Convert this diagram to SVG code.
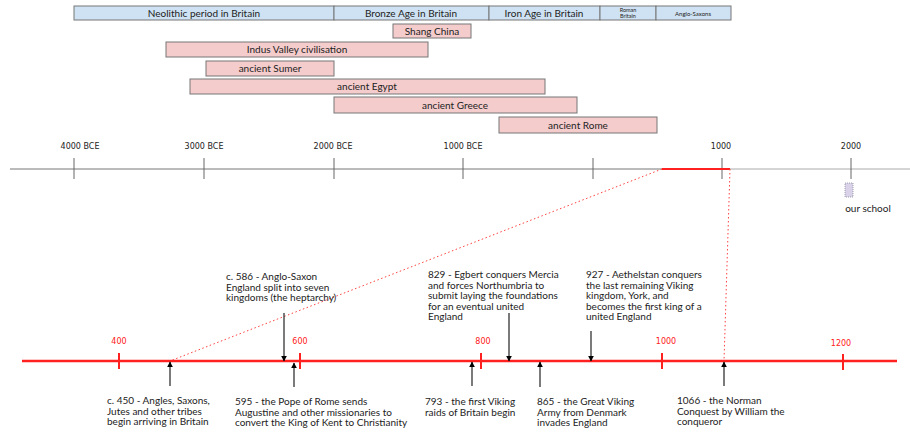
<svg xmlns="http://www.w3.org/2000/svg" width="910" height="434" viewBox="0 0 910 434">
<defs>
<style>
.bl{fill:#cfe2f3;stroke:#777;stroke-width:1}
.pk{fill:#f4cccc;stroke:#777;stroke-width:1}
.bt{font-family:Lato,"Open Sans",sans-serif;font-size:10px;fill:#222;text-anchor:middle}
.ax{font-family:"DejaVu Sans",sans-serif;font-size:8px;fill:#222;text-anchor:middle}
.rx{font-family:"DejaVu Sans",sans-serif;font-size:8px;fill:#ff2020;text-anchor:middle}
.ev{font-family:Lato,"Open Sans",sans-serif;font-size:10px;fill:#222}
.tk{stroke:#666;stroke-width:1}
.rt{stroke:#ff2020;stroke-width:2}
.ar{stroke:#222;stroke-width:1.2;marker-end:url(#ah)}
</style>
<marker id="ah" viewBox="0 0 10 10" refX="9" refY="5" markerWidth="6" markerHeight="6" markerUnits="userSpaceOnUse" orient="auto"><path d="M0,0 L10,5 L0,10 z" fill="#000"/></marker>
</defs>
<rect width="910" height="434" fill="#fff"/>
<g id="periods">
<g id="neolithic"><rect class="bl" x="74" y="6" width="260" height="14"/><text class="bt" x="204" y="16.5">Neolithic period in Britain</text></g>
<g id="bronze"><rect class="bl" x="334" y="6" width="155" height="14"/><text class="bt" x="411" y="16.5">Bronze Age in Britain</text></g>
<g id="iron"><rect class="bl" x="489" y="6" width="111" height="14"/><text class="bt" x="544" y="16.5">Iron Age in Britain</text></g>
<g id="roman"><rect class="bl" x="600" y="6" width="56" height="14"/><text class="bt" x="628" y="12" style="font-size:5.5px">Roman</text><text class="bt" x="628" y="18" style="font-size:5.5px">Britain</text></g>
<g id="anglosaxons"><rect class="bl" x="656" y="6" width="75" height="14"/><text class="bt" x="693" y="15.5" style="font-size:6px">Anglo-Saxons</text></g>
</g>
<g id="civilisations">
<g id="shang"><rect class="pk" x="393" y="24" width="78" height="14"/><text class="bt" x="432" y="34.5">Shang China</text></g>
<g id="indus"><rect class="pk" x="166" y="42" width="262" height="15"/><text class="bt" x="297" y="53">Indus Valley civilisation</text></g>
<g id="sumer"><rect class="pk" x="206" y="61" width="128" height="15"/><text class="bt" x="270" y="72">ancient Sumer</text></g>
<g id="egypt"><rect class="pk" x="190" y="79" width="355" height="15"/><text class="bt" x="367" y="90">ancient Egypt</text></g>
<g id="greece"><rect class="pk" x="334" y="97" width="243" height="16"/><text class="bt" x="455" y="108.5">ancient Greece</text></g>
<g id="rome"><rect class="pk" x="499" y="117" width="158" height="16"/><text class="bt" x="578" y="128.5">ancient Rome</text></g>
</g>
<g id="main-axis">
<line x1="10" y1="169" x2="662" y2="169" stroke="#777" stroke-width="1"/>
<line x1="730" y1="169" x2="910" y2="169" stroke="#aaa" stroke-width="1"/>
<line class="tk" x1="74" y1="158" x2="74" y2="179"/>
<line class="tk" x1="204" y1="158" x2="204" y2="179"/>
<line class="tk" x1="334" y1="158" x2="334" y2="179"/>
<line class="tk" x1="463" y1="158" x2="463" y2="179"/>
<line class="tk" x1="593" y1="158" x2="593" y2="179"/>
<line class="tk" x1="722" y1="158" x2="722" y2="179"/>
<line class="tk" x1="851" y1="158" x2="851" y2="179"/>
<text class="ax" x="80" y="149">4000 BCE</text>
<text class="ax" x="204" y="149">3000 BCE</text>
<text class="ax" x="333" y="149">2000 BCE</text>
<text class="ax" x="463" y="149">1000 BCE</text>
<text class="ax" x="721" y="149">1000</text>
<text class="ax" x="851" y="149">2000</text>
<line x1="662" y1="169" x2="730" y2="169" stroke="#ff2020" stroke-width="2"/>
</g>
<g id="school">
<rect x="845" y="183" width="8" height="14" fill="#d9d2e9" stroke="#8a8aa0" stroke-width="0.8" stroke-dasharray="1,1"/>
<text class="bt" x="868" y="212">our school</text>
</g>
<g id="zoom-lines">
<line x1="662" y1="169" x2="170" y2="361" stroke="#ff4040" stroke-width="1" stroke-dasharray="1.5,2.5"/>
<line x1="730" y1="169" x2="724" y2="361" stroke="#ff4040" stroke-width="1" stroke-dasharray="1.5,2.5"/>
</g>
<g id="detail-axis">
<line x1="22" y1="361" x2="897" y2="361" stroke="#ff2020" stroke-width="2.5"/>
<line class="rt" x1="119" y1="353" x2="119" y2="369"/>
<line class="rt" x1="300" y1="353" x2="300" y2="369"/>
<line class="rt" x1="481" y1="353" x2="481" y2="369"/>
<line class="rt" x1="662" y1="353" x2="662" y2="369"/>
<line class="rt" x1="843" y1="354" x2="843" y2="370"/>
<text class="rx" x="119" y="344">400</text>
<text class="rx" x="300" y="344">600</text>
<text class="rx" x="483" y="344">800</text>
<text class="rx" x="666" y="344">1000</text>
<text class="rx" x="841" y="346">1200</text>
</g>
<g id="connectors">
<line class="ar" x1="170" y1="386" x2="170" y2="362"/>
<line class="ar" x1="284" y1="313" x2="284" y2="361"/>
<line class="ar" x1="294" y1="387" x2="294" y2="363"/>
<line class="ar" x1="472" y1="386" x2="472" y2="362"/>
<line class="ar" x1="509" y1="313" x2="509" y2="361"/>
<line class="ar" x1="540" y1="387" x2="540" y2="362"/>
<line class="ar" x1="591" y1="331" x2="591" y2="361"/>
<line class="ar" x1="724" y1="386" x2="724" y2="362"/>
</g>
<g id="e450"><text class="ev" x="107" y="404">c. 450 - Angles, Saxons,</text><text class="ev" x="107" y="414.5">Jutes and other tribes</text><text class="ev" x="107" y="425">begin arriving in Britain</text></g>
<g id="e586"><text class="ev" x="226" y="280">c. 586 - Anglo-Saxon</text><text class="ev" x="226" y="290.5">England split into seven</text><text class="ev" x="226" y="301">kingdoms (the heptarchy)</text></g>
<g id="e595"><text class="ev" x="235" y="405">595 - the Pope of Rome sends</text><text class="ev" x="235" y="415.5">Augustine and other missionaries to</text><text class="ev" x="235" y="426">convert the King of Kent to Christianity</text></g>
<g id="e793"><text class="ev" x="425" y="405">793 - the first Viking</text><text class="ev" x="425" y="415.5">raids of Britain begin</text></g>
<g id="e829"><text class="ev" x="428" y="278">829 - Egbert conquers Mercia</text><text class="ev" x="428" y="288.5">and forces Northumbria to</text><text class="ev" x="428" y="299">submit laying the foundations</text><text class="ev" x="428" y="309.5">for an eventual united</text><text class="ev" x="428" y="320">England</text></g>
<g id="e865"><text class="ev" x="537" y="405">865 - the Great Viking</text><text class="ev" x="537" y="415.5">Army from Denmark</text><text class="ev" x="537" y="426">invades England</text></g>
<g id="e927"><text class="ev" x="586" y="278">927 - Aethelstan conquers</text><text class="ev" x="586" y="288.5">the last remaining Viking</text><text class="ev" x="586" y="299">kingdom, York, and</text><text class="ev" x="586" y="309.5">becomes the first king of a</text><text class="ev" x="586" y="320">united England</text></g>
<g id="e1066"><text class="ev" x="677" y="404">1066 - the Norman</text><text class="ev" x="677" y="414.5">Conquest by William the</text><text class="ev" x="677" y="425">conqueror</text></g>
</svg>
